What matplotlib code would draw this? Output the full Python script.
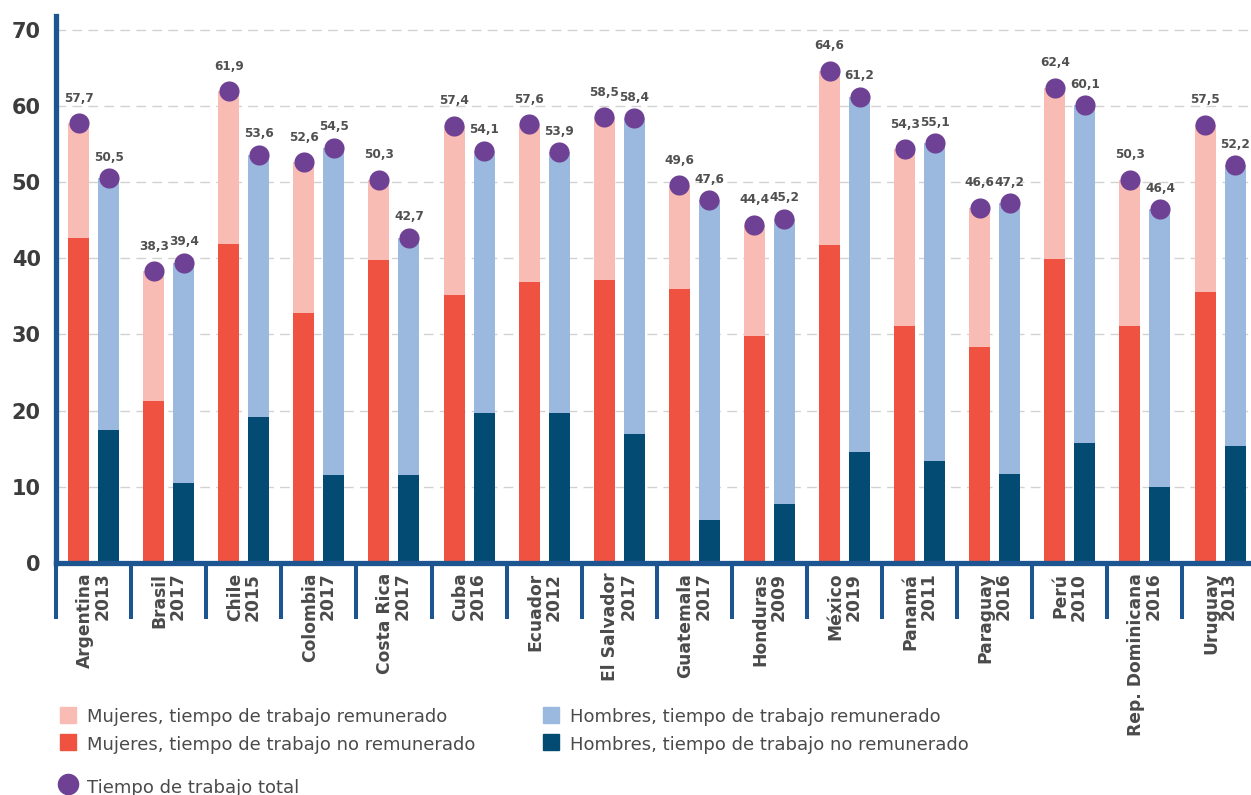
import matplotlib.pyplot as plt
import numpy as np
from matplotlib.patches import Rectangle
from matplotlib.lines import Line2D

# datos: tiempo de trabajo (horas semanales)
paises = ["Argentina", "Brasil", "Chile", "Colombia", "Costa Rica", "Cuba",
          "Ecuador", "El Salvador", "Guatemala", "Honduras", "México",
          "Panamá", "Paraguay", "Perú", "Rep. Dominicana", "Uruguay"]
anios = ["2013", "2017", "2015", "2017", "2017", "2016", "2012", "2017",
         "2017", "2009", "2019", "2011", "2016", "2010", "2016", "2013"]
mujeres_total = [57.7, 38.3, 61.9, 52.6, 50.3, 57.4, 57.6, 58.5,
                 49.6, 44.4, 64.6, 54.3, 46.6, 62.4, 50.3, 57.5]
hombres_total = [50.5, 39.4, 53.6, 54.5, 42.7, 54.1, 53.9, 58.4,
                 47.6, 45.2, 61.2, 55.1, 47.2, 60.1, 46.4, 52.2]
mujeres_no_rem = [42.6, 21.2, 41.8, 32.8, 39.7, 35.2, 36.9, 37.1,
                  35.9, 29.8, 41.7, 31.1, 28.4, 39.9, 31.1, 35.6]
hombres_no_rem = [17.4, 10.5, 19.1, 11.5, 11.5, 19.7, 19.7, 16.9,
                  5.7, 7.8, 14.6, 13.4, 11.7, 15.8, 10.0, 15.4]

# colores
ROSA = "#f9bcb4"
ROJO = "#ef5240"
CELESTE = "#9bb8de"
AZUL = "#044b73"
MORADO = "#6f4194"
EJE = "#1d5591"
GRIS = "#4a4a4a"

W, H = 1251, 795
fig = plt.figure(figsize=(W / 100, H / 100), dpi=100)
ax = fig.add_axes([56 / W, (H - 563) / H, 16 * 75.1 / W, 71.8 * 7.62 / H])

x = np.arange(len(paises))
mt = np.array(mujeres_total)
ht = np.array(hombres_total)
mn = np.array(mujeres_no_rem)
hn = np.array(hombres_no_rem)

ancho = 0.28
xm = x - 0.2
xh = x + 0.2

ax.bar(xm, mn, ancho, color=ROJO, zorder=2)
ax.bar(xm, mt - mn, ancho, bottom=mn, color=ROSA, zorder=2)
ax.bar(xh, hn, ancho, color=AZUL, zorder=2)
ax.bar(xh, ht - hn, ancho, bottom=hn, color=CELESTE, zorder=2)

ax.scatter(xm, mt, s=210, color=MORADO, zorder=3, linewidths=0)
ax.scatter(xh, ht, s=210, color=MORADO, zorder=3, linewidths=0)

def etiqueta(v):
    return f"{v:.1f}".replace(".", ",")

for xi, v in zip(xm, mt):
    ax.annotate(etiqueta(v), (xi, v), xytext=(0, 18), textcoords="offset points",
                ha="center", va="center", fontsize=8.7, fontweight="bold",
                color="#505050", zorder=4)
for xi, v in zip(xh, ht):
    ax.annotate(etiqueta(v), (xi, v), xytext=(0, 15), textcoords="offset points",
                ha="center", va="center", fontsize=8.7, fontweight="bold",
                color="#505050", zorder=4)

ax.set_xlim(-0.5, 15.5)
ax.set_ylim(0, 71.8)

# grilla punteada
ax.set_yticks(range(0, 71, 10))
for yv in range(10, 71, 10):
    ax.axhline(yv, color="#d2d2d2", lw=1.0, ls=(0, (7, 4.5)), zorder=1)

for s in ["top", "right"]:
    ax.spines[s].set_visible(False)
ax.spines["left"].set_color(EJE)
ax.spines["left"].set_linewidth(3.8)
ax.spines["bottom"].set_color(EJE)
ax.spines["bottom"].set_linewidth(3.8)
ax.spines["bottom"].set_capstyle("projecting")

ax.tick_params(axis="y", length=0, pad=11, labelsize=15, labelcolor="#3c3c3c")
for lbl in ax.get_yticklabels():
    lbl.set_fontweight("bold")

# etiquetas de paises y separadores
ax.set_xticks(x)
ax.set_xticklabels([p + "\n" + a for p, a in zip(paises, anios)],
                   rotation=90, fontsize=12.3, fontweight="bold", color=GRIS,
                   linespacing=1.0)
for lbl in ax.get_xticklabels():
    lbl.set_multialignment("right")
ax.tick_params(axis="x", which="major", length=0, pad=7)
ax.set_xticks(np.arange(-0.5, 15.6, 1), minor=True)
ax.tick_params(axis="x", which="minor", length=40, width=2.9, color=EJE,
               direction="out")

# leyenda manual
def cuadro(px, py, color, texto, base):
    fig.add_artist(Rectangle((px / W, 1 - (py + 16) / H), 16 / W, 16 / H,
                             transform=fig.transFigure, color=color))
    fig.text((px + 27) / W, 1 - base / H, texto, fontsize=13, color=GRIS,
             va="baseline", ha="left")

cuadro(60, 707, ROSA, "Mujeres, tiempo de trabajo remunerado", 722)
cuadro(60, 734, ROJO, "Mujeres, tiempo de trabajo no remunerado", 750)
cuadro(543, 707, CELESTE, "Hombres, tiempo de trabajo remunerado", 722)
cuadro(543, 734, AZUL, "Hombres, tiempo de trabajo no remunerado", 750)

fig.add_artist(Line2D([68 / W], [1 - 784 / H], marker="o", ms=14.5,
                      color=MORADO, transform=fig.transFigure, lw=0))
fig.text(87 / W, 1 - 793 / H, "Tiempo de trabajo total", fontsize=13,
         color=GRIS, va="baseline", ha="left")

fig.savefig("out.png", dpi=100)
